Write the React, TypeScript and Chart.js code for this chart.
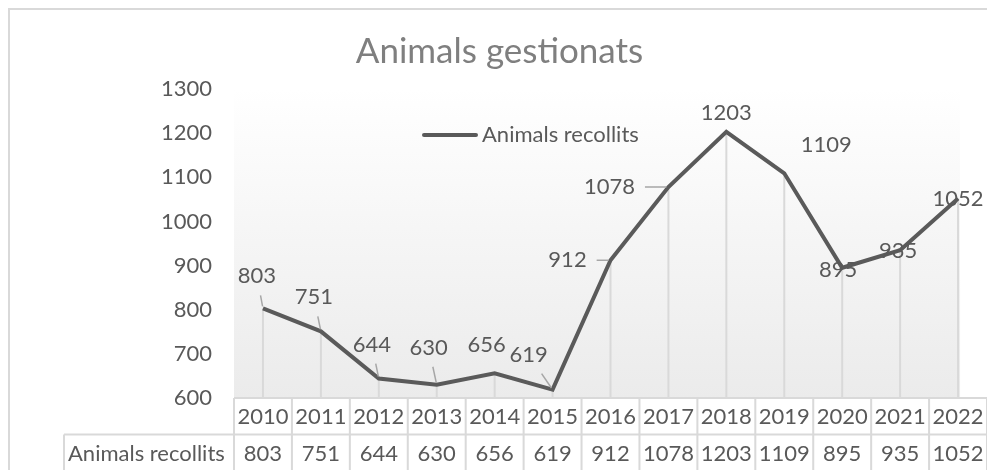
import React, { useEffect, useRef } from "react";
import { Chart, registerables } from "chart.js";

Chart.register(...registerables);

// ---- data ----
const years = ["2010", "2011", "2012", "2013", "2014", "2015", "2016", "2017", "2018", "2019", "2020", "2021", "2022"];
const animalsRecollits = [803, 751, 644, 630, 656, 619, 912, 1078, 1203, 1109, 895, 935, 1052];
const seriesName = "Animals recollits";
const chartTitle = "Animals gestionats";
const yMin = 600;
const yMax = 1300;
const yStep = 100;

// ---- label placement (style only) ----
const labelOffsets: [number, number][] = [
  [-6, -32], [-7, -34], [-7, -34], [-8, -37], [-8, -28], [-24, -35], [-43, 0],
  [-59, 0], [0, -19], [42, -28], [-4, 2], [-2, 1], [0, 0],
];
const labelLeaders = [true, true, true, true, false, true, true, true, false, false, false, false, false];

const FONT = "Lato, 'Open Sans', sans-serif";
const TEXT = "#595959";
const GRID = "#d9d9d9";
const LINE = "#5a5a5a";
const FS = 22;

const excelPlugin = {
  id: "excelLook",
  beforeDraw(chart: any) {
    const { ctx, chartArea: a, scales } = chart;
    const x = scales.x;
    ctx.save();
    ctx.fillStyle = "#ffffff";
    ctx.fillRect(0, 0, chart.width, chart.height);
    // outer border (top/left visible)
    ctx.fillStyle = GRID;
    ctx.fillRect(0, 0, chart.width, 2);
    ctx.fillRect(0, 0, 2, chart.height);
    // plot area gradient
    const right = x.getPixelForValue(years.length - 1) + 2;
    const g = ctx.createLinearGradient(0, a.top, 0, a.bottom);
    g.addColorStop(0, "#ffffff");
    g.addColorStop(1, "#ebebeb");
    ctx.fillStyle = g;
    ctx.fillRect(a.left, a.top, right - a.left, a.bottom - a.top);
    ctx.restore();
  },
  beforeDatasetsDraw(chart: any) {
    const { ctx, chartArea: a } = chart;
    const meta = chart.getDatasetMeta(0);
    ctx.save();
    ctx.strokeStyle = GRID;
    ctx.lineWidth = 2;
    meta.data.forEach((p: any) => {
      ctx.beginPath();
      ctx.moveTo(p.x, p.y);
      ctx.lineTo(p.x, a.bottom);
      ctx.stroke();
    });
    ctx.restore();
  },
  afterDatasetsDraw(chart: any) {
    const { ctx, chartArea: a } = chart;
    const meta = chart.getDatasetMeta(0);
    ctx.save();

    // data labels with leader lines
    ctx.font = `${FS}px ${FONT}`;
    ctx.textAlign = "center";
    ctx.textBaseline = "middle";
    meta.data.forEach((p: any, i: number) => {
      const [dx, dy] = labelOffsets[i];
      const cx = p.x + dx;
      const cy = p.y + dy;
      const txt = String(animalsRecollits[i]);
      if (labelLeaders[i]) {
        const hw = ctx.measureText(txt).width / 2 + 10;
        const hh = 19;
        const vx = -dx;
        const vy = -dy;
        const tx = vx !== 0 ? hw / Math.abs(vx) : Infinity;
        const ty = vy !== 0 ? hh / Math.abs(vy) : Infinity;
        const t = Math.min(tx, ty);
        if (t < 1) {
          const len = Math.hypot(vx, vy);
          ctx.strokeStyle = "#a6a6a6";
          ctx.lineWidth = 1.5;
          ctx.beginPath();
          ctx.moveTo(cx + vx * t, cy + vy * t);
          ctx.lineTo(p.x - (vx / len) * 2, p.y - (vy / len) * 2);
          ctx.stroke();
        }
      }
      ctx.fillStyle = TEXT;
      ctx.fillText(txt, cx, cy);
    });

    // title
    ctx.font = `35px ${FONT}`;
    ctx.fillStyle = "#7f7f7f";
    ctx.textAlign = "center";
    ctx.textBaseline = "alphabetic";
    ctx.fillText(chartTitle, chart.width / 2 + 2, 55);

    // legend
    ctx.strokeStyle = LINE;
    ctx.lineWidth = 4;
    ctx.lineCap = "round";
    ctx.beginPath();
    ctx.moveTo(416, 127);
    ctx.lineTo(468, 127);
    ctx.stroke();
    ctx.lineCap = "butt";
    ctx.font = `${FS}px ${FONT}`;
    ctx.fillStyle = TEXT;
    ctx.textAlign = "left";
    ctx.textBaseline = "middle";
    ctx.fillText(seriesName, 474, 127);

    // data table
    const n = years.length;
    const colW = (a.right - a.left) / n;
    const top = a.bottom;
    const mid = top + 36.5;
    const bot = chart.height;
    const headLeft = 56;
    ctx.strokeStyle = GRID;
    ctx.lineWidth = 2;
    ctx.beginPath();
    ctx.moveTo(a.left, top);
    ctx.lineTo(chart.width, top);
    ctx.moveTo(headLeft, mid);
    ctx.lineTo(chart.width, mid);
    ctx.moveTo(headLeft, mid);
    ctx.lineTo(headLeft, bot);
    for (let i = 0; i <= n; i++) {
      const xx = a.left + i * colW;
      ctx.moveTo(xx, top);
      ctx.lineTo(xx, bot);
    }
    ctx.stroke();

    ctx.fillStyle = TEXT;
    ctx.font = `${FS}px ${FONT}`;
    ctx.textAlign = "center";
    ctx.textBaseline = "middle";
    for (let i = 0; i < n; i++) {
      const xc = a.left + (i + 0.5) * colW;
      ctx.fillText(years[i], xc, (top + mid) / 2 + 1);
      ctx.fillText(String(animalsRecollits[i]), xc, mid + 19);
    }
    ctx.textAlign = "left";
    ctx.fillText(seriesName, headLeft + 4, mid + 19);

    ctx.restore();
  },
};

export default function App() {
  const ref = useRef<HTMLCanvasElement | null>(null);
  useEffect(() => {
    if (!ref.current) return;
    const chart = new Chart(ref.current, {
      type: "line",
      data: {
        labels: years,
        datasets: [
          {
            label: seriesName,
            data: animalsRecollits,
            borderColor: LINE,
            borderWidth: 4,
            pointRadius: 0,
            tension: 0,
            borderJoinStyle: "miter",
          },
        ],
      },
      options: {
        responsive: false,
        animation: false,
        devicePixelRatio: 1,
        layout: { padding: { top: 81, bottom: 72, left: 0, right: 0 } },
        plugins: {
          legend: { display: false },
          title: { display: false },
          tooltip: { enabled: false },
        },
        scales: {
          x: {
            type: "category",
            display: false,
            offset: true,
          },
          y: {
            min: yMin,
            max: yMax,
            ticks: {
              stepSize: yStep,
              color: TEXT,
              font: { family: FONT, size: FS },
              padding: 22,
              callback: (v: any) => String(v),
            },
            grid: { display: false, drawTicks: false },
            border: { display: false },
            afterFit: (s: any) => {
              s.width = 226;
            },
          },
        },
      },
      plugins: [excelPlugin],
    });
    return () => chart.destroy();
  }, []);
  return (
    <div style={{ height: 0 }}>
      <canvas
        ref={ref}
        width={979}
        height={462}
        style={{ display: "block", position: "fixed", left: 8, top: 8 }}
      />
    </div>
  );
}
